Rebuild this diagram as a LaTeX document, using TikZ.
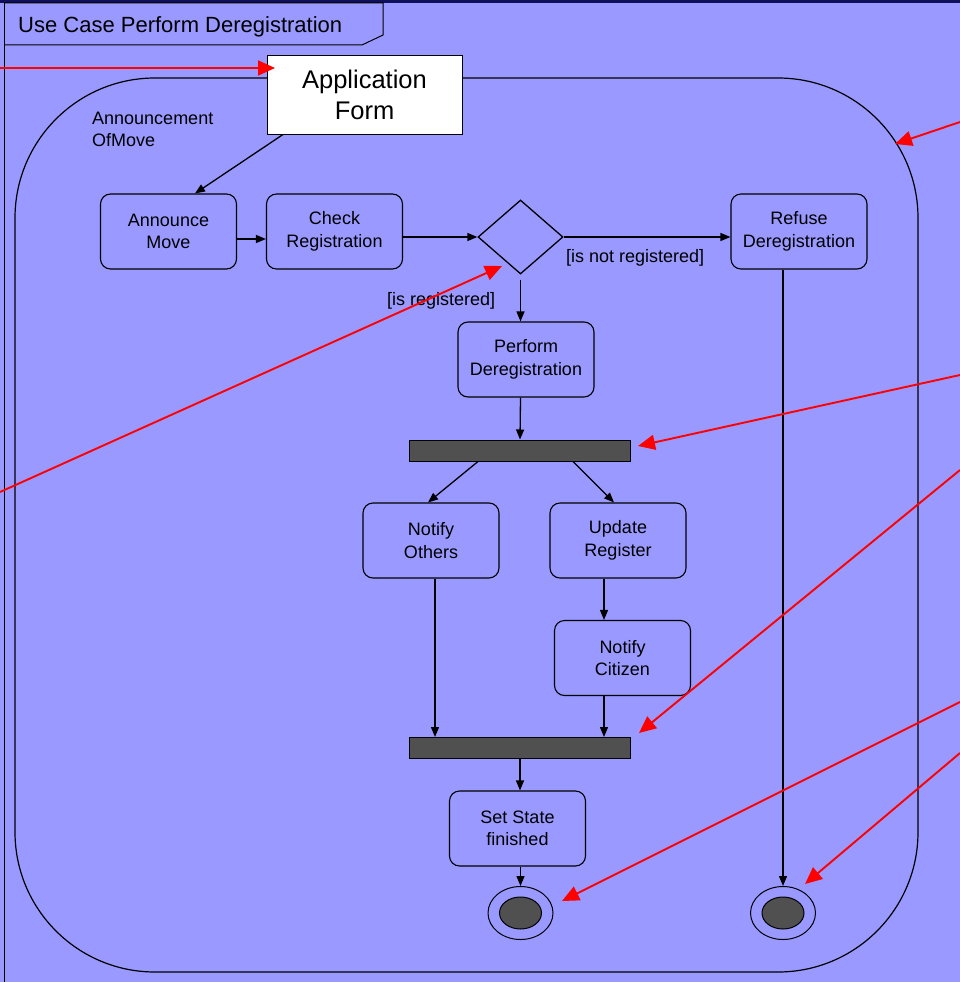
\documentclass[tikz,border=0pt]{standalone}
\usepackage{fontspec}
\setmainfont{Liberation Sans}
\usetikzlibrary{arrows.meta,shapes.geometric}
\definecolor{diagbg}{HTML}{9999FF}
\definecolor{barfill}{HTML}{505050}
\definecolor{framenavy}{HTML}{10105A}
\begin{document}
\begin{tikzpicture}[x=1pt, y=-1pt,
  action/.style={draw, rounded corners=10pt, line width=1.1pt, minimum width=136pt, minimum height=75pt, inner sep=0pt, align=center, font=\fontsize{18}{22.5}\selectfont},
  bar/.style={draw, fill=barfill, line width=1pt, minimum width=221pt, minimum height=21pt, inner sep=0pt},
  final/.style={draw, ellipse, fill=diagbg, line width=1pt, minimum width=65pt, minimum height=53pt, inner sep=0pt},
  finaldot/.style={draw, ellipse, fill=barfill, line width=1pt, minimum width=42pt, minimum height=32pt, inner sep=0pt},
  flow/.style={line width=1.3pt, -{Triangle[length=10pt,width=8pt]}},
  callout/.style={red, line width=1.9pt, -{Triangle[length=17pt,width=15pt]}},
  guard/.style={inner sep=0pt, font=\fontsize{18}{22}\selectfont}]
\useasboundingbox (0,0) rectangle (960,982);
\fill[diagbg] (0,0) rectangle (960,982);
\fill[framenavy] (0,0) rectangle (960,3);
\draw[line width=1pt] (4,3) -- (4,982);
\draw[line width=1pt] (4,3) -- (383,3) -- (383,35) -- (362,45) -- (4,45);
\node[anchor=base west, inner sep=0pt, font=\fontsize{22}{26}\selectfont] (title) at (18,32.5) {Use Case Perform Deregistration};
\draw[line width=1.2pt, rounded corners=140pt] (15,78) rectangle (918,972);
\node[anchor=base west, inner sep=0pt, align=left, font=\fontsize{18}{22.5}\selectfont] (region) at (92,146.5) {Announcement\\OfMove};
\node[draw, fill=white, line width=1pt, minimum width=195pt, minimum height=78pt, inner sep=0pt, align=center, font=\fontsize{25.5}{31}\selectfont] (appform) at (364.5,95) {Application\\Form};
\node[action] (announce) at (168.5,231.5) {Announce\\Move};
\node[action] (check) at (334.5,231.5) {Check\\Registration};
\node[draw, diamond, line width=1.3pt, minimum width=85pt, minimum height=74pt, inner sep=0pt] (decide) at (520.5,237) {};
\node[action] (refuse) at (799,231.5) {Refuse\\Deregistration};
\node[action] (perform) at (526,359.5) {Perform\\Deregistration};
\node[bar] (fork) at (520,450.5) {};
\node[action] (others) at (431,540.5) {Notify\\Others};
\node[action] (update) at (618,540.5) {Update\\Register};
\node[action] (citizen) at (622.5,658) {Notify\\Citizen};
\node[bar] (join) at (520,748) {};
\node[action] (setstate) at (517.5,828.5) {Set State\\finished};
\node[final] (final1) at (520.5,913) {};
\node[finaldot] (final1dot) at (final1) {};
\node[final] (final2) at (783,913) {};
\node[finaldot] (final2dot) at (final2) {};
\node[guard, anchor=base west] (notreg) at (566,262) {[is not registered]};
\node[guard, anchor=base west] (isreg) at (387,305) {[is registered]};
\draw[flow] ([xshift=-81.5pt]appform.south) -- ([xshift=26.5pt]announce.north);
\draw[flow] ([yshift=-7.5pt]announce.east) -- ([yshift=-7.5pt]check.west);
\draw[flow] (check.east |- decide.west) -- (decide.west);
\draw[flow] (decide.east) -- (refuse.west |- decide.east);
\draw[flow, shorten <=5pt] (decide.south) -- (decide.south |- perform.north);
\draw[flow] (decide.south |- perform.south) -- (fork.north);
\draw[flow] ([xshift=-42pt]fork.south) -- ([xshift=-3pt]others.north);
\draw[flow] ([xshift=53pt]fork.south) -- ([xshift=-4pt]update.north);
\draw[flow] ([xshift=-14pt]update.south) -- ([xshift=-14pt]update.south |- citizen.north);
\draw[flow] ([xshift=4pt]others.south) -- ([xshift=4pt]others.south |- join.north);
\draw[flow] ([xshift=-18.5pt]citizen.south) -- ([xshift=-18.5pt]citizen.south |- join.north);
\draw[flow] (join.south) -- (join.south |- setstate.north);
\draw[flow] (setstate.south -| final1.north) -- (final1.north);
\draw[flow] (final2.north |- refuse.south) -- (final2.north);
\coordinate (p1) at (0,68);
\coordinate (t1) at (275,68);
\coordinate (p2) at (960,122);
\coordinate (t2) at (895,144);
\coordinate (p3) at (0,492);
\coordinate (t3) at (502,266);
\coordinate (p4) at (960,375);
\coordinate (t4) at (638,446);
\coordinate (p5) at (960,470);
\coordinate (t5) at (639,733);
\coordinate (p6) at (960,702);
\coordinate (t6) at (562,901);
\coordinate (p7) at (960,753);
\coordinate (t7) at (805,884);
\draw[callout] (p1) -- (t1);
\draw[callout] (p2) -- (t2);
\draw[callout] (p3) -- (t3);
\draw[callout] (p4) -- (t4);
\draw[callout] (p5) -- (t5);
\draw[callout] (p6) -- (t6);
\draw[callout] (p7) -- (t7);
\end{tikzpicture}
\end{document}
